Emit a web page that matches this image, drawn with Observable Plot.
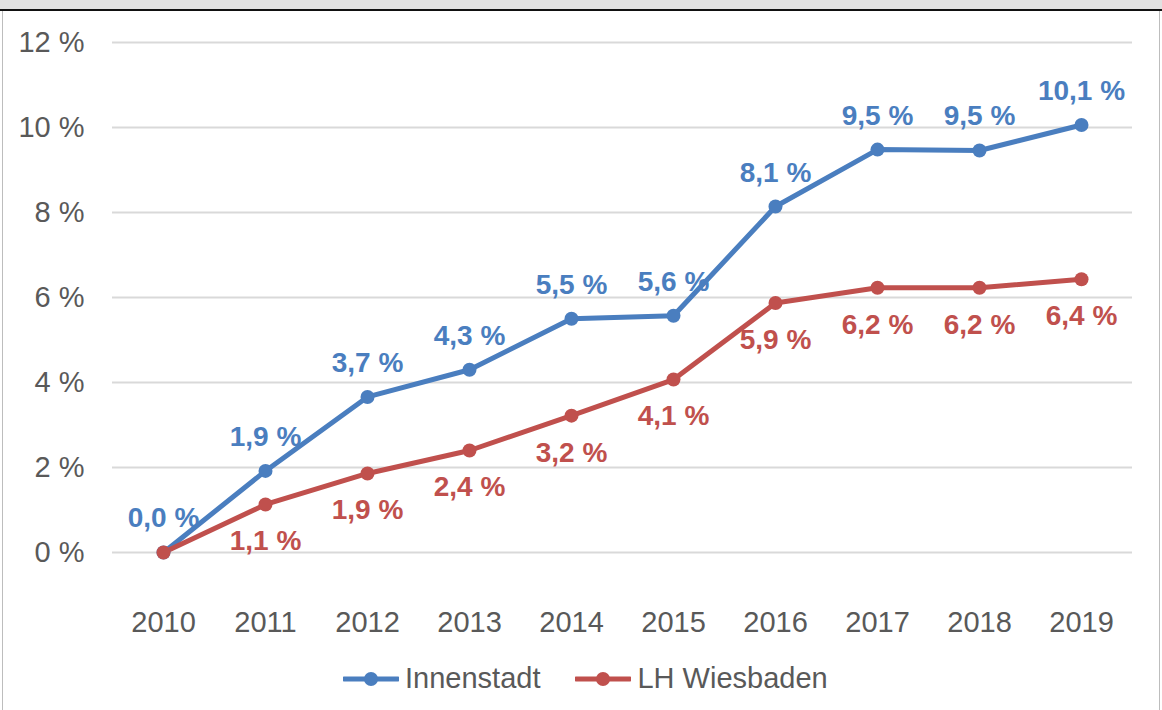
<!DOCTYPE html>
<html>
<head>
<meta charset="utf-8">
<script src="https://cdn.jsdelivr.net/npm/d3@7"></script>
<script src="https://cdn.jsdelivr.net/npm/@observablehq/plot@0.6"></script>
<style>
  html, body { margin: 0; padding: 0; background: #fff; }
  #wrap { position: relative; width: 1162px; height: 710px; overflow: hidden; background: #fff; font-family: "Liberation Sans", Arial, sans-serif; }
  #topband { position: absolute; left: 0; top: 0; width: 1162px; height: 9px; background: #e1e1e1; }
  #topline { position: absolute; left: 0; top: 9px; width: 1162px; height: 2px; background: #111; }
  #leftline { position: absolute; left: 2px; top: 11px; width: 1px; height: 699px; background: #bdbdbd; }
  #rightline { position: absolute; left: 1159px; top: 11px; width: 1px; height: 699px; background: #bdbdbd; }
  #chart { position: absolute; left: 0; top: 0; }
  #legend { position: absolute; left: 343px; top: 662px; display: flex; align-items: center; font-size: 29px; color: #595959; }
  .item { display: flex; align-items: center; }
  .item svg { margin-right: 6px; }
</style>
</head>
<body>
<div id="wrap">
  <div id="chart"></div>
  <div id="topband"></div>
  <div id="topline"></div>
  <div id="leftline"></div>
  <div id="rightline"></div>
  <div id="legend"></div>
</div>
<script>
const years = [2010, 2011, 2012, 2013, 2014, 2015, 2016, 2017, 2018, 2019];
const innenstadt = [0, 1.92, 3.66, 4.3, 5.5, 5.57, 8.14, 9.48, 9.46, 10.06];
const wiesbaden = [0, 1.13, 1.86, 2.4, 3.22, 4.07, 5.87, 6.23, 6.23, 6.43];
const seriesNames = ["Innenstadt", "LH Wiesbaden"];
const seriesColors = ["#4a7ebf", "#c0504d"];
const yTicks = [0, 2, 4, 6, 8, 10, 12];

const data = [];
years.forEach((y, i) => {
  data.push({year: String(y), value: innenstadt[i], series: seriesNames[0]});
  data.push({year: String(y), value: wiesbaden[i], series: seriesNames[1]});
});
const fmt = v => v.toFixed(1).replace(".", ",") + " %";
const blue = data.filter(d => d.series === seriesNames[0]);
const red = data.filter(d => d.series === seriesNames[1] && d.year !== "2010");

const chart = Plot.plot({
  width: 1162,
  height: 650,
  marginLeft: 112,
  marginRight: 30,
  marginTop: 42,
  marginBottom: 98,
  style: {fontFamily: "'Liberation Sans', Arial, sans-serif", background: "transparent", color: "#595959"},
  x: {type: "point", domain: years.map(String), padding: 0.5},
  y: {domain: [0, 12]},
  color: {domain: seriesNames, range: seriesColors},
  marks: [
    Plot.gridY(yTicks, {stroke: "#d9d9d9", strokeOpacity: 1, strokeWidth: 2}),
    Plot.axisY(yTicks, {tickSize: 0, tickPadding: 28, fontSize: 29, fill: "#595959", tickFormat: d => d + " %", label: null}),
    Plot.axisX({tickSize: 0, tickPadding: 59, fontSize: 29, fill: "#595959", label: null}),
    Plot.line(data, {x: "year", y: "value", z: "series", stroke: "series", strokeWidth: 5}),
    Plot.dot(data, {x: "year", y: "value", fill: "series", r: 7, stroke: null}),
    Plot.text(blue, {x: "year", y: "value", text: d => fmt(d.value), dy: -34, fill: seriesColors[0], fontSize: 28, fontWeight: "bold"}),
    Plot.text(red, {x: "year", y: "value", text: d => fmt(d.value), dy: 37, fill: seriesColors[1], fontSize: 28, fontWeight: "bold"})
  ]
});
document.getElementById("chart").appendChild(chart);

const legend = document.getElementById("legend");
seriesNames.forEach((name, i) => {
  const item = document.createElement("div");
  item.className = "item";
  if (i > 0) item.style.marginLeft = "35px";
  item.innerHTML = `<svg width="56" height="16"><line x1="1" x2="55" y1="8" y2="8" stroke="${seriesColors[i]}" stroke-width="5" stroke-linecap="round"/><circle cx="28" cy="8" r="7" fill="${seriesColors[i]}"/></svg><span>${name}</span>`;
  legend.appendChild(item);
});
</script>
</body>
</html>
